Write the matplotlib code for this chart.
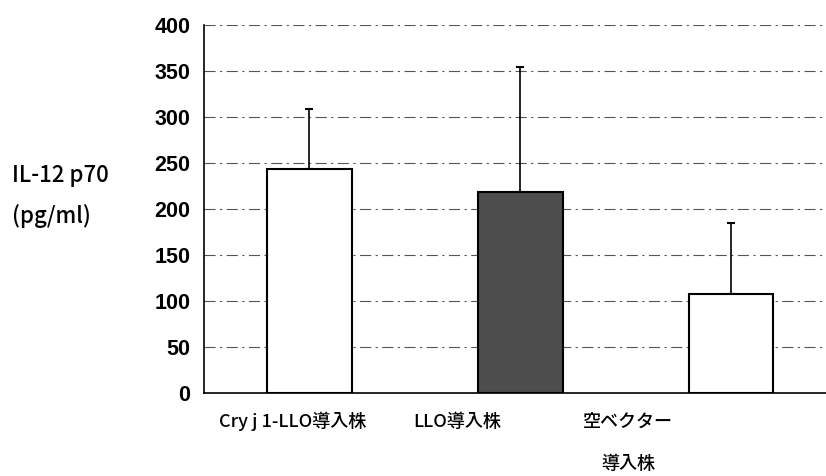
import matplotlib
matplotlib.use("Agg")
import matplotlib.pyplot as plt

# IL-12 p70 production per transfected strain
categories = ["Cry j 1-LLO導入株", "LLO導入株", "空ベクター\n導入株"]
means = [244, 218, 108]
err_upper = [65, 136, 77]
bar_colors = ["white", "#4d4d4d", "white"]
yticks = [0, 50, 100, 150, 200, 250, 300, 350, 400]

jp_font = ["Noto Sans CJK JP", "DejaVu Sans"]

fig = plt.figure(figsize=(8.26, 4.76), dpi=100)
ax = fig.add_axes([0.247, 0.1744, 0.766, 0.7731])

x = list(range(len(categories)))
ax.bar(x, means, width=0.40, color=bar_colors, edgecolor="black", linewidth=1.5, zorder=3)
ax.errorbar(x, means, yerr=[[0] * len(means), err_upper], fmt="none",
            ecolor="black", elinewidth=1.2, capsize=3, capthick=1.5, zorder=2)

ax.set_xlim(-0.5, 2.5)
ax.set_ylim(0, 400)
ax.set_yticks(yticks)
ax.set_yticklabels([str(t) for t in yticks], fontfamily="Liberation Sans",
                   fontweight="bold", fontsize=15.5)
ax.tick_params(axis="y", length=0, pad=10)
ax.set_xticks([])

# dash-dot horizontal gridlines
for t in yticks[1:]:
    ax.axhline(t, color="#555555", linewidth=0.8,
               linestyle=(0, (10, 4, 2, 4)), zorder=1)

for side in ["top", "right"]:
    ax.spines[side].set_visible(False)
ax.spines["left"].set_linewidth(1.2)
ax.spines["bottom"].set_linewidth(1.2)

# category labels sit left of their bars; wrapped lines get a wide gap
label_offsets = [-0.08, -0.30, -0.49]
for xi, off, name in zip(x, label_offsets, categories):
    for row, line in enumerate(name.split("\n")):
        ax.text(xi + off, -31 - row * 46, line, ha="center", va="center",
                fontsize=13, fontweight="medium", family=jp_font)

fig.text(0.014, 0.632, "IL-12 p70", fontsize=16, fontweight="medium",
         family=jp_font, va="center")
fig.text(0.014, 0.546, "(pg/ml)", fontsize=16, fontweight="medium",
         family=jp_font, va="center")

fig.savefig("out.png", dpi=100)
